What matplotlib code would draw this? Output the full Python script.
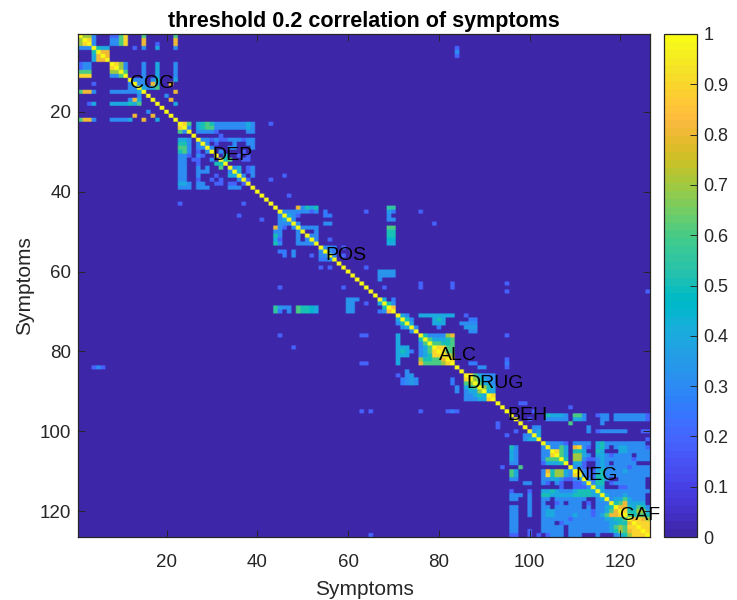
import numpy as np
import matplotlib
matplotlib.use('Agg')
import matplotlib.pyplot as plt
from matplotlib.colors import ListedColormap

plt.rcParams['font.family'] = ['Liberation Sans', 'DejaVu Sans']

# parula
PARULA = [
    (0.2422, 0.1504, 0.6603), (0.2504, 0.1650, 0.7076), (0.2578, 0.1818, 0.7511), (0.2647, 0.1978, 0.7952),
    (0.2706, 0.2147, 0.8364), (0.2751, 0.2342, 0.8710), (0.2783, 0.2559, 0.8991), (0.2803, 0.2782, 0.9221),
    (0.2813, 0.3006, 0.9414), (0.2810, 0.3228, 0.9579), (0.2795, 0.3447, 0.9717), (0.2760, 0.3667, 0.9829),
    (0.2699, 0.3892, 0.9906), (0.2602, 0.4123, 0.9952), (0.2440, 0.4358, 0.9988), (0.2206, 0.4603, 0.9973),
    (0.1963, 0.4847, 0.9892), (0.1834, 0.5074, 0.9798), (0.1786, 0.5289, 0.9682), (0.1764, 0.5499, 0.9520),
    (0.1687, 0.5703, 0.9359), (0.1540, 0.5902, 0.9218), (0.1460, 0.6091, 0.9079), (0.1380, 0.6276, 0.8973),
    (0.1248, 0.6459, 0.8883), (0.1113, 0.6635, 0.8763), (0.0952, 0.6798, 0.8598), (0.0689, 0.6948, 0.8394),
    (0.0297, 0.7082, 0.8163), (0.0036, 0.7203, 0.7917), (0.0067, 0.7312, 0.7660), (0.0433, 0.7411, 0.7394),
    (0.0964, 0.7500, 0.7120), (0.1408, 0.7584, 0.6842), (0.1717, 0.7670, 0.6554), (0.1938, 0.7758, 0.6251),
    (0.2161, 0.7843, 0.5923), (0.2470, 0.7918, 0.5567), (0.2906, 0.7973, 0.5188), (0.3406, 0.8008, 0.4789),
    (0.3909, 0.8029, 0.4354), (0.4456, 0.8024, 0.3909), (0.5044, 0.7993, 0.3480), (0.5616, 0.7942, 0.3045),
    (0.6174, 0.7876, 0.2612), (0.6720, 0.7793, 0.2227), (0.7242, 0.7698, 0.1910), (0.7738, 0.7598, 0.1646),
    (0.8203, 0.7498, 0.1535), (0.8634, 0.7406, 0.1596), (0.9035, 0.7330, 0.1774), (0.9393, 0.7288, 0.2100),
    (0.9728, 0.7298, 0.2394), (0.9956, 0.7434, 0.2371), (0.9970, 0.7659, 0.2199), (0.9952, 0.7893, 0.2028),
    (0.9892, 0.8136, 0.1885), (0.9786, 0.8386, 0.1766), (0.9676, 0.8639, 0.1643), (0.9610, 0.8890, 0.1537),
    (0.9597, 0.9135, 0.1423), (0.9628, 0.9373, 0.1265), (0.9691, 0.9606, 0.1064), (0.9769, 0.9839, 0.0805),
]

N_SYMPTOMS = 126

# each char is a correlation in tenths, . is below threshold, X is 1
COG_START = 1
COG_ROWS = [
    "X773...2269...6......6.",
    ".X93...3369...8......8.",
    "..X3...3369...8..2...8.",
    "...X544.....2.3..4...3.",
    "....X88",
    ".....X8",
    "......X",
    ".......X973...3..4...3.",
    "........X73...3..4...3.",
    ".........X6...3..4...3.",
    "..........X...3..4...3.",
    "...........X333.35...4.",
    "............X33.84..8..",
    ".............X4346.....",
    "..............X......8.",
    "...............X...3...",
    "................X...8..",
    ".................X...4.",
]

DEP_START = 23
DEP_ROWS = [
    "X", "9X", "63X", "...X", "443.X", "553.3X", "663.33X", "563.2.3X",
    "332.32..X", "33..2..3.X", "33..2...55X", "33..3.3..6.X", "33..333....3X",
    "33..3...2..44X", "33..2..2.2...3X", "443.33..22.22.2X", "333.333....333..X",
]

POS_START = 42
POS_ROWS = [
    "X", ".X", "..X", "...X", "...3X", "...34X", "...333X", "..832.3X",
    "..33...3X", "..53...3.X", "..42...3.3X", "..53...3333X",
]

ALC_START = 71
ALC_ROWS = [
    "X", "4X", "35X", ".34X", "...3X", "4....X", "4....5X", "4....36X",
    "444..346X", "4542.3469X", "444..34599X", "4....755668X", "4....8666679X",
]

DRUG_START = 86
DRUG_ROWS = ["X", "9X", "67X", "456X", "3447X", "33454X", "333449X"]

NEG_START = 96
NEG_ROWS = [
    "X", ".X", "..X", "...X", ".2..X", "...33X", "...344X", ".......X",
    "53.....3X", "43.....33X", "43.....339X", "43.....3666X", "33.....24445X",
    ".............X",
    "64.....3857743X",
    "64.....39577439X",
    "33.....334432233X",
    ".......32.32..223X",
    "...........2..2223X",
    "2...2..445433345554X",
    "333.3..5544444555544X",
    "33..3..33.3333333..34X",
    "....3..3..23.333.2.333X",
    "33..3..33.333333.3.3345X",
    "33..3..34433333333233468X",
    "33..3..344333343332346889X",
    "33.....3333332333333344556X",
    "33.....333.2333333333344558X",
    "33.....33333.333333333467699X",
    "33..2..33333.3333333334576899X",
    "22..2.2.2333.333...3...3457999X",
]

CLUSTERS = [
    (COG_START, COG_ROWS), (DEP_START, DEP_ROWS), (POS_START, POS_ROWS),
    (ALC_START, ALC_ROWS), (DRUG_START, DRUG_ROWS), (NEG_START, NEG_ROWS),
]

# row, first col, last col, value
STRAY_CELLS = [
    (4, 84, 84, 0.2), (5, 84, 84, 0.3), (6, 84, 84, 0.2),
    (23, 43, 43, 0.2), (26, 32, 32, 0.2), (36, 46, 46, 0.2), (37, 43, 43, 0.2),
    (41, 47, 47, 0.2), (44, 69, 70, 0.55), (45, 55, 55, 0.25), (45, 64, 64, 0.2),
    (45, 69, 69, 0.35), (45, 70, 70, 0.25), (45, 76, 76, 0.2), (46, 55, 56, 0.25),
    (46, 69, 69, 0.3), (47, 69, 70, 0.3), (48, 55, 56, 0.3), (48, 79, 79, 0.2),
    (49, 69, 70, 0.6), (50, 69, 70, 0.5), (51, 69, 70, 0.5), (52, 69, 70, 0.45),
    (52, 56, 56, 0.2), (53, 69, 70, 0.4), (54, 55, 56, 0.3), (54, 57, 57, 0.25),
    (54, 59, 59, 0.2), (55, 56, 56, 0.3), (55, 57, 57, 0.25), (56, 57, 57, 0.3),
    (56, 59, 59, 0.2), (59, 64, 64, 0.2), (60, 67, 70, 0.33), (61, 67, 70, 0.32),
    (62, 67, 67, 0.3), (63, 76, 76, 0.2), (63, 83, 83, 0.2), (63, 95, 95, 0.2),
    (64, 68, 68, 0.2), (64, 76, 76, 0.2), (64, 83, 83, 0.2), (65, 95, 95, 0.2),
    (65, 126, 126, 0.2), (67, 68, 68, 0.4), (67, 70, 70, 0.25), (68, 69, 69, 0.5),
    (68, 70, 70, 0.3), (69, 70, 70, 0.85),
    (71, 76, 83, 0.4), (71, 86, 86, 0.2), (72, 79, 81, 0.4), (72, 87, 88, 0.25),
    (73, 79, 81, 0.4), (73, 85, 88, 0.3), (74, 80, 80, 0.25), (74, 86, 88, 0.35),
    (75, 87, 88, 0.3), (76, 82, 82, 0.7), (76, 83, 83, 0.8), (76, 95, 95, 0.2),
    (82, 95, 95, 0.2), (83, 87, 88, 0.25), (83, 95, 95, 0.25), (84, 89, 90, 0.3),
    (84, 95, 95, 0.2),
    (93, 98, 99, 0.2), (94, 109, 109, 0.2), (95, 101, 101, 0.2), (98, 109, 109, 0.6),
    (99, 113, 113, 0.3), (100, 113, 113, 0.3),
]

SYMPTOM_LABELS = ['COG', 'DEP', 'POS', 'ALC', 'DRUG', 'BEH', 'NEG', 'GAF']
LABEL_POS = [12, 30, 55, 80, 86, 95, 110, 120]
LABEL_ROW = [13, 31, 56, 81, 88, 96, 111, 121]

corr = np.zeros((N_SYMPTOMS, N_SYMPTOMS))
for start, rows in CLUSTERS:
    for i, line in enumerate(rows):
        for j, ch in enumerate(line):
            if ch == 'X':
                corr[start + i - 1, start + j - 1] = 1.0
            elif ch != '.':
                corr[start + i - 1, start + j - 1] = int(ch) / 10
for r, c1, c2, v in STRAY_CELLS:
    corr[r - 1, c1 - 1:c2] = v
corr = np.maximum(corr, corr.T)
np.fill_diagonal(corr, 1.0)

fig = plt.figure(figsize=(7.37, 6.0), dpi=100)
W, H = 737, 600
ax = fig.add_axes([78 / W, (H - 537) / H, 572 / W, 503 / H])
cax = fig.add_axes([664 / W, (H - 537) / H, 33 / W, 503 / H])

dark = '#262626'
# the reference has soft cell edges, so repeat cells and let bilinear blur only the borders
soft = np.kron(corr, np.ones((3, 3)))
im = ax.imshow(soft, cmap=ListedColormap(PARULA), vmin=0, vmax=1, aspect='auto',
               interpolation='bilinear', interpolation_stage='rgba',
               extent=(0.5, N_SYMPTOMS + 0.5, N_SYMPTOMS + 0.5, 0.5))
ax.set_xticks(range(20, 121, 20))
ax.set_yticks(range(20, 121, 20))
ax.tick_params(direction='in', length=4.7, width=0.7, color=dark, labelcolor=dark,
               labelsize=13.5, top=True, right=True, pad=5)
ax.tick_params(axis='x', pad=12)
for side in ax.spines.values():
    side.set_color(dark)
    side.set_linewidth(0.9)
ax.set_xlabel('Symptoms', fontsize=15, color=dark, labelpad=6.5)
ax.set_ylabel('Symptoms', fontsize=15, color=dark, labelpad=4)
ax.set_title('threshold 0.2 correlation of symptoms', fontsize=15.5, fontweight='bold', pad=5)

for name, x, y in zip(SYMPTOM_LABELS, LABEL_POS, LABEL_ROW):
    ax.text(x, y, name, fontsize=14, color='black', ha='left', va='center')

cb = fig.colorbar(im, cax=cax)
cb.set_ticks(np.arange(0, 1.01, 0.1))
cb.set_ticklabels(['0', '0.1', '0.2', '0.3', '0.4', '0.5', '0.6', '0.7', '0.8', '0.9', '1'])
cax.tick_params(direction='in', length=4.7, width=0.7, color=dark, labelcolor=dark, labelsize=13, pad=4.5)
cb.outline.set_edgecolor(dark)
cb.outline.set_linewidth(0.9)

fig.savefig('out.png', dpi=100)
